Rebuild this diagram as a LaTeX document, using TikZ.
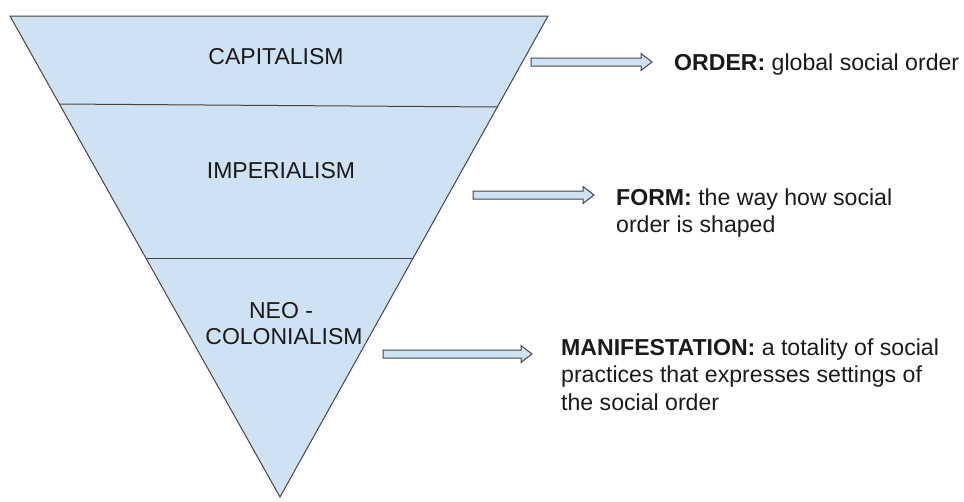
\documentclass[tikz,border=0pt]{standalone}
\usepackage{fontspec}
\setmainfont{Liberation Sans}
\definecolor{lblue}{HTML}{CFE2F3}
\definecolor{edge}{HTML}{454545}
\definecolor{txt}{HTML}{1A1A1A}
\newcommand\blockarrow[3]{%
  \draw[arr] (#1,{#3-4}) -- ({#2-11},{#3-4}) -- ({#2-11},{#3-8.5}) -- (#2,#3)
    -- ({#2-11},{#3+8.5}) -- ({#2-11},{#3+4}) -- (#1,{#3+4}) -- cycle;}
\begin{document}
\begin{tikzpicture}[x=1pt,y=-1pt,
  tri/.style={fill=lblue, draw=edge, line width=1pt, line join=miter},
  sep/.style={draw=edge, line width=1pt},
  arr/.style={fill=lblue, draw=edge, line width=1pt},
  lbl/.style={font=\fontsize{23}{27}\selectfont, text=txt, inner sep=0pt, anchor=base},
  desc/.style={font=\fontsize{23.1}{27}\selectfont, text=txt, inner sep=0pt, anchor=base west}]
\path[use as bounding box] (0,0) rectangle (964,501);
% inverted triangle
\draw[tri] (10,16) -- (548,16) -- (280,497) -- cycle;
\draw[sep] (59.4,104) -- (497.3,107);
\draw[sep] (146,258) -- (413,258);
% level labels
\node[lbl] (cap) at (276,64) {CAPITALISM};
\node[lbl] (imp) at (281,178) {IMPERIALISM};
\node[lbl] (neo1) at (281,318) {NEO -};
\node[lbl] (neo2) at (284,344) {COLONIALISM};
% arrows
\blockarrow{531}{652}{62}
\blockarrow{473}{594}{195}
\blockarrow{383}{532}{354}
% descriptions
\node[desc] (ord) at (674,70) {\textbf{ORDER:} global social order};
\node[desc] (frm1) at (616,205) {\textbf{FORM:} the way how social};
\node[desc] (frm2) at (616,232) {order is shaped};
\node[desc] (man1) at (561,355) {\textbf{MANIFESTATION:} a totality of social};
\node[desc] (man2) at (561,382.5) {practices that expresses settings of};
\node[desc] (man3) at (561,410) {the social order};
\end{tikzpicture}
\end{document}
